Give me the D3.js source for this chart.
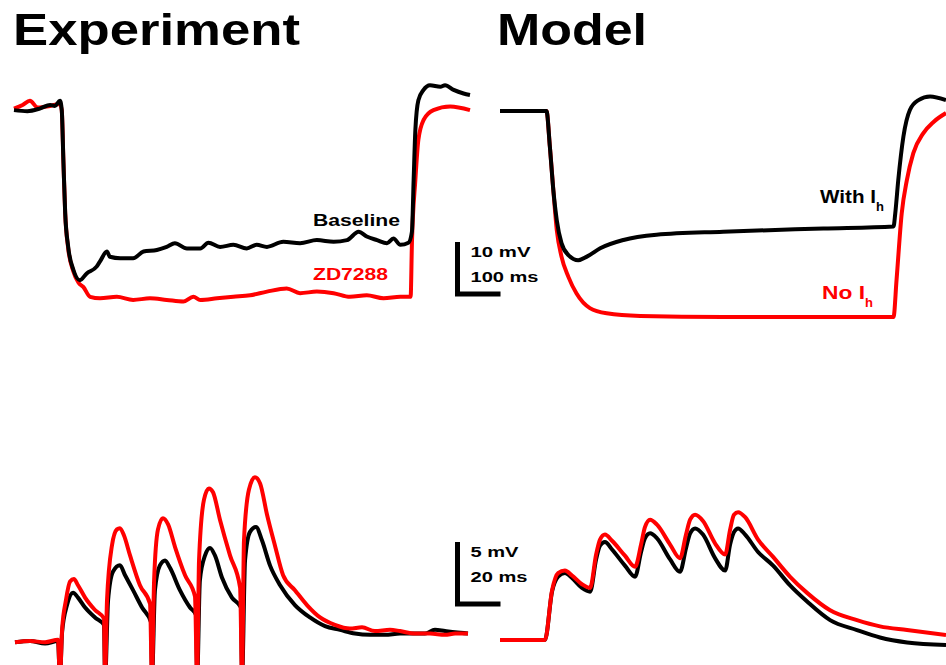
<!DOCTYPE html>
<html>
<head>
<meta charset="utf-8">
<script src="https://cdn.jsdelivr.net/npm/d3@7"></script>
<style>
  body { margin: 0; background: #fff; }
  svg { display: block; font-family: 'Liberation Sans', Arial, sans-serif; font-weight: bold; }
</style>
</head>
<body>
<div id="chart"></div>
<script>
// traces: [time (ms), potential relative to rest (mV)]
const expStepBaseline = [[0,-0.6],[31,-0.8],[60,-0.3],[84,0.4],[95,0.2],[107,1.2],[111,-0.6],[115,-10.8],[119,-20.4],[126,-26.9],[138,-31.3],[153,-33.3],[169,-32],[192,-30.7],[200,-29.7],[216,-27.8],[223,-28.8],[247,-29.1],[277,-29.1],[301,-27.8],[332,-27.5],[355,-26.9],[374,-26.2],[402,-27.2],[433,-27.2],[452,-26.1],[479,-26.9],[510,-26.5],[541,-27.2],[564,-26.5],[588,-26.9],[626,-25.9],[665,-26.2],[704,-25.6],[743,-25.9],[774,-25.6],[801,-24],[820,-24.9],[844,-25.6],[867,-26.2],[882,-25.3],[898,-26.5],[917,-26.1],[925,-24],[929,-14],[933,-4.4],[940,1.3],[952,3.3],[967,4.2],[991,3.9],[1002,4.2],[1022,3.3],[1045,2.6],[1060,2.3]];
const expStepZD7288 = [[0,-0.3],[20,0.4],[37,1.2],[55,-0.1],[84,0.2],[107,0.6],[111,-0.6],[115,-10.8],[119,-20.4],[126,-27.2],[138,-31.6],[150,-33.8],[161,-34.6],[177,-36.5],[200,-36.8],[239,-36.5],[277,-37.1],[316,-36.8],[355,-37.1],[394,-37.4],[417,-36.5],[433,-37.1],[472,-36.8],[510,-36.5],[549,-36.2],[588,-35.5],[634,-34.9],[665,-35.8],[704,-35.5],[743,-35.8],[781,-36.5],[820,-36.2],[859,-36.8],[898,-36.5],[922,-36.5],[925,-26.2],[933,-14],[940,-6.3],[952,-2.5],[975,-0.6],[1014,0.1],[1060,-0.6]];

const modelStepWithIh = [[0,0],[108,0],[116,-6.9],[124,-15.2],[132,-21],[143,-25.4],[159,-27.7],[182,-28.7],[202,-28],[233,-26.4],[287,-24.8],[364,-23.8],[519,-23.2],[752,-22.6],[915,-22.2],[919,-19.7],[926,-13.3],[938,-4.9],[953,0.2],[973,2.1],[1000,2.8],[1037,2.1]];
const modelStepNoIh = [[0,0],[108,0],[116,-6.9],[124,-15.2],[132,-22.9],[143,-28],[159,-31.9],[178,-35.1],[209,-37.9],[248,-38.9],[326,-39.4],[519,-39.6],[915,-39.6],[922,-32.5],[934,-19.7],[946,-13.3],[961,-8.1],[984,-4.3],[1008,-2.1],[1037,-0.4]];

const expTrainBaseline = [[0,-0.1],[7,0],[14,-0.2],[20,0],[20.9,-3],[21.9,0.7],[24.2,2.9],[27.0,3.9],[29.3,3.5],[32.6,2.7],[37.2,1.9],[41.4,1.3],[41.9,-3],[43.3,3.3],[45.6,5.6],[48.8,6.1],[51.2,5.3],[54.9,4.1],[59.1,2.7],[63.3,1.5],[63.7,-3],[65.1,4.1],[67.4,6.1],[69.8,6.5],[72.1,5.9],[76.7,4.1],[81.4,2.7],[84.2,2.1],[84.7,-3],[86.0,4.9],[88.4,6.9],[90.7,7.5],[93.0,6.9],[96.3,5.1],[100.9,3.5],[105.1,2.7],[105.6,-3],[107.0,6.5],[109.3,8.8],[112.1,9.2],[114.9,8.1],[118.6,6.1],[123.3,4.5],[130.2,2.9],[137.2,1.9],[144.2,1.2],[151.2,0.9],[158.1,0.6],[165.1,0.5],[172.1,0.5],[179.1,0.6],[186.0,0.6],[190.7,0.6],[195.3,0.9],[200.0,0.8],[204.7,0.7],[210.7,0.6]];
const expTrainZD7288 = [[0,-0.1],[7,0],[14,-0.1],[20,0.1],[20.9,-3],[21.9,0.9],[23.7,3.3],[25.6,4.8],[27.4,5.0],[29.3,4.5],[32.6,3.5],[37.2,2.5],[41.4,1.8],[41.9,-3],[42.8,3.3],[45.1,7.7],[47.4,9.0],[48.8,9.1],[50.7,8.5],[53.5,6.9],[58.1,4.5],[62.8,3.0],[63.7,-3],[64.7,4.9],[66.5,9.0],[68.8,9.9],[71.2,9.4],[74.4,7.6],[79.1,5.3],[83.7,3.6],[84.7,-3],[85.6,6.5],[87.9,11.4],[90.2,12.3],[92.1,12.0],[95.3,9.8],[100.0,6.9],[104.7,4.3],[105.6,-3],[106.5,8.1],[108.8,12.2],[111.6,13.2],[114.0,12.7],[117.2,10.2],[120.9,7.7],[124.7,5.3],[130.2,4.1],[135.8,2.9],[141.9,1.9],[148.8,1.3],[155.8,1.0],[161.4,1.1],[167.4,0.8],[174.4,0.9],[179.1,0.8],[186.0,0.6],[193.0,0.6],[200.0,0.5],[204.7,0.6],[210.7,0.6]];

const modelTrainWithIh = [[0,0],[20.9,0],[24.2,3.9],[27.0,5.1],[30.2,5.4],[33.5,5.0],[38.1,4.2],[41.9,3.9],[44.7,6.5],[46.5,7.6],[48.8,7.9],[52.1,7.3],[58.1,6.0],[62.8,5.1],[65.6,7.1],[67.4,8.2],[69.8,8.6],[73.0,8.2],[79.1,6.5],[83.7,5.5],[86.5,7.4],[88.4,8.6],[90.7,9.0],[94.4,8.5],[100.0,6.6],[104.7,5.6],[107.0,7.7],[108.8,8.7],[110.7,9.0],[114.0,8.5],[120.0,7.1],[127.0,6.0],[134.9,4.4],[142.8,3.1],[153.5,1.6],[166.0,0.8],[176.7,0.2],[189.3,-0.2],[207.4,-0.4]];
const modelTrainNoIh = [[0,0],[20.9,0],[24.2,4.0],[27.0,5.4],[30.2,5.6],[33.5,5.2],[38.1,4.5],[41.9,4.2],[44.7,6.9],[46.5,8.1],[48.8,8.5],[52.1,8.0],[58.1,6.8],[62.8,5.9],[65.6,7.7],[67.4,9.1],[69.8,9.7],[73.0,9.3],[79.1,7.7],[83.7,6.6],[86.5,8.5],[88.4,9.7],[90.7,10.1],[94.4,9.6],[100.0,7.8],[104.7,6.9],[107.0,8.9],[108.8,10.1],[110.7,10.3],[114.0,9.9],[120.0,8.1],[127.0,6.7],[134.9,5.1],[142.8,3.8],[153.5,2.4],[166.0,1.6],[176.7,1.1],[189.3,0.8],[207.4,0.4]];

const titles = ['Experiment', 'Model'];
const expLabels = ['Baseline', 'ZD7288'];
const modelLabels = ['With I', 'No I'];
const scaleBarMv = [10, 5];
const scaleBarMs = [100, 20];

const black = '#000000';
const red = '#ff0000';

const svg = d3.select('#chart')
    .append('svg')
    .attr('width', 946)
    .attr('height', 665);

const panel = (xDomain, xRange, yDomain, yRange) => ({
  x: d3.scaleLinear().domain(xDomain).range(xRange),
  y: d3.scaleLinear().domain(yDomain).range(yRange)
});

// 0.43 px/ms, 5.2 px/mV on top; 2.15 px/ms, 12.4 px/mV below
const expStep = panel([0, 1060], [14, 470], [-40, 5], [315, 81]);
const modelStep = panel([0, 1037], [500, 946], [-40, 5], [319, 85]);
const expTrain = panel([0, 212], [15, 470.8], [-3, 14], [678.2, 467.4]);
const modelTrain = panel([0, 207.4], [500, 946], [-3, 14], [677.2, 466.4]);

const drawTrace = (p, data, color) => {
  const line = d3.line()
      .x((d) => p.x(d[0]))
      .y((d) => p.y(d[1]))
      .curve(d3.curveMonotoneX);
  svg.append('path')
      .datum(data)
      .attr('d', line)
      .attr('fill', 'none')
      .attr('stroke', color)
      .attr('stroke-width', 4)
      .attr('stroke-linejoin', 'round');
};

// top: black over red, bottom: red over black
drawTrace(expStep, expStepZD7288, red);
drawTrace(expStep, expStepBaseline, black);
drawTrace(modelStep, modelStepNoIh, red);
drawTrace(modelStep, modelStepWithIh, black);
drawTrace(expTrain, expTrainBaseline, black);
drawTrace(expTrain, expTrainZD7288, red);
drawTrace(modelTrain, modelTrainWithIh, black);
drawTrace(modelTrain, modelTrainNoIh, red);

// titles
svg.append('g')
    .selectAll('text')
    .data(titles)
    .join('text')
    .attr('x', (d, i) => [13, 497][i])
    .attr('y', 45)
    .attr('font-size', 45)
    .attr('textLength', (d, i) => [287, 150][i])
    .attr('lengthAdjust', 'spacingAndGlyphs')
    .text((d) => d);

// experiment labels
svg.append('g')
    .selectAll('text')
    .data(expLabels)
    .join('text')
    .attr('x', 313)
    .attr('y', (d, i) => [226, 280][i])
    .attr('font-size', 17)
    .attr('fill', (d, i) => [black, red][i])
    .attr('textLength', (d, i) => [87, 75][i])
    .attr('lengthAdjust', 'spacingAndGlyphs')
    .text((d) => d);

// model labels with subscript h
const ml = svg.append('g')
    .selectAll('text')
    .data(modelLabels)
    .join('text')
    .attr('x', (d, i) => [820, 822][i])
    .attr('y', (d, i) => [203, 299][i])
    .attr('font-size', 19)
    .attr('fill', (d, i) => [black, red][i]);
ml.append('tspan')
    .attr('textLength', (d, i) => [56, 43][i])
    .attr('lengthAdjust', 'spacingAndGlyphs')
    .text((d) => d);
ml.append('tspan')
    .attr('dy', 8)
    .attr('font-size', 13)
    .text('h');

// scale bars
const scaleBar = (p, mv, ms, x0, y0) => {
  const h = p.y(0) - p.y(mv);
  const w = p.x(ms) - p.x(0);
  svg.append('path')
      .attr('d', `M${x0},${y0 - h}V${y0}H${x0 + w}`)
      .attr('fill', 'none')
      .attr('stroke', black)
      .attr('stroke-width', 5);
  svg.append('text')
      .attr('x', x0 + 13)
      .attr('y', y0 - h + 15)
      .attr('font-size', 15)
      .attr('textLength', mv >= 10 ? 60 : 48)
      .attr('lengthAdjust', 'spacingAndGlyphs')
      .text(`${mv} mV`);
  svg.append('text')
      .attr('x', x0 + 13)
      .attr('y', y0 - h + 40)
      .attr('font-size', 15)
      .attr('textLength', ms >= 100 ? 68 : 57)
      .attr('lengthAdjust', 'spacingAndGlyphs')
      .text(`${ms} ms`);
};

scaleBar(expStep, scaleBarMv[0], scaleBarMs[0], 457.5, 294);
scaleBar(expTrain, scaleBarMv[1], scaleBarMs[1], 457.5, 604);
</script>
</body>
</html>
